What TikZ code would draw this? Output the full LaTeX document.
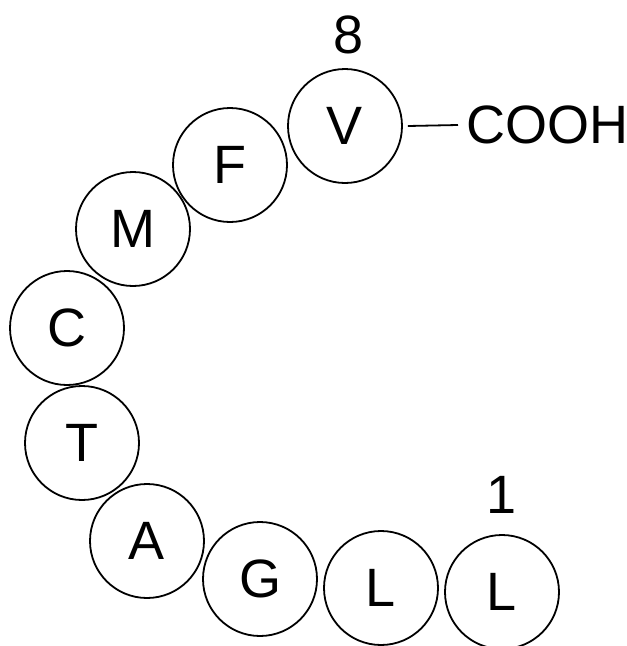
\documentclass[tikz,border=0pt]{standalone}
\usepackage{fontspec}
\setmainfont{Liberation Sans}
\begin{document}
\begin{tikzpicture}[x=1pt,y=-1pt,
  aa/.style={draw, circle, line width=1.8pt, minimum size=114pt, inner sep=0pt, font=\fontsize{54}{60}\selectfont},
  lbl/.style={inner sep=0pt, font=\fontsize{54}{60}\selectfont}]
\useasboundingbox (0,0) rectangle (627,646);
\node[aa] (V) at (345,126) {V};
\node[aa] (F) at (230,165) {F};
\node[aa] (M) at (133,229) {M};
\node[aa] (C) at (67,328) {C};
\node[aa] (T) at (82,443) {T};
\node[aa] (A) at (147,541) {A};
\node[aa] (G) at (260,579) {G};
\node[aa] (L2) at (381,588) {L};
\node[aa] (L1) at (502,592) {L};
\node[lbl] (n8) at (349,35) {8};
\node[lbl] (n1) at (502,495) {1};
\node[lbl, anchor=west, inner xsep=8pt] (cooh) at (458,125) {COOH};
\draw[line width=1.8pt] ([xshift=5pt]V.east) -- (cooh.west);
\end{tikzpicture}
\end{document}
